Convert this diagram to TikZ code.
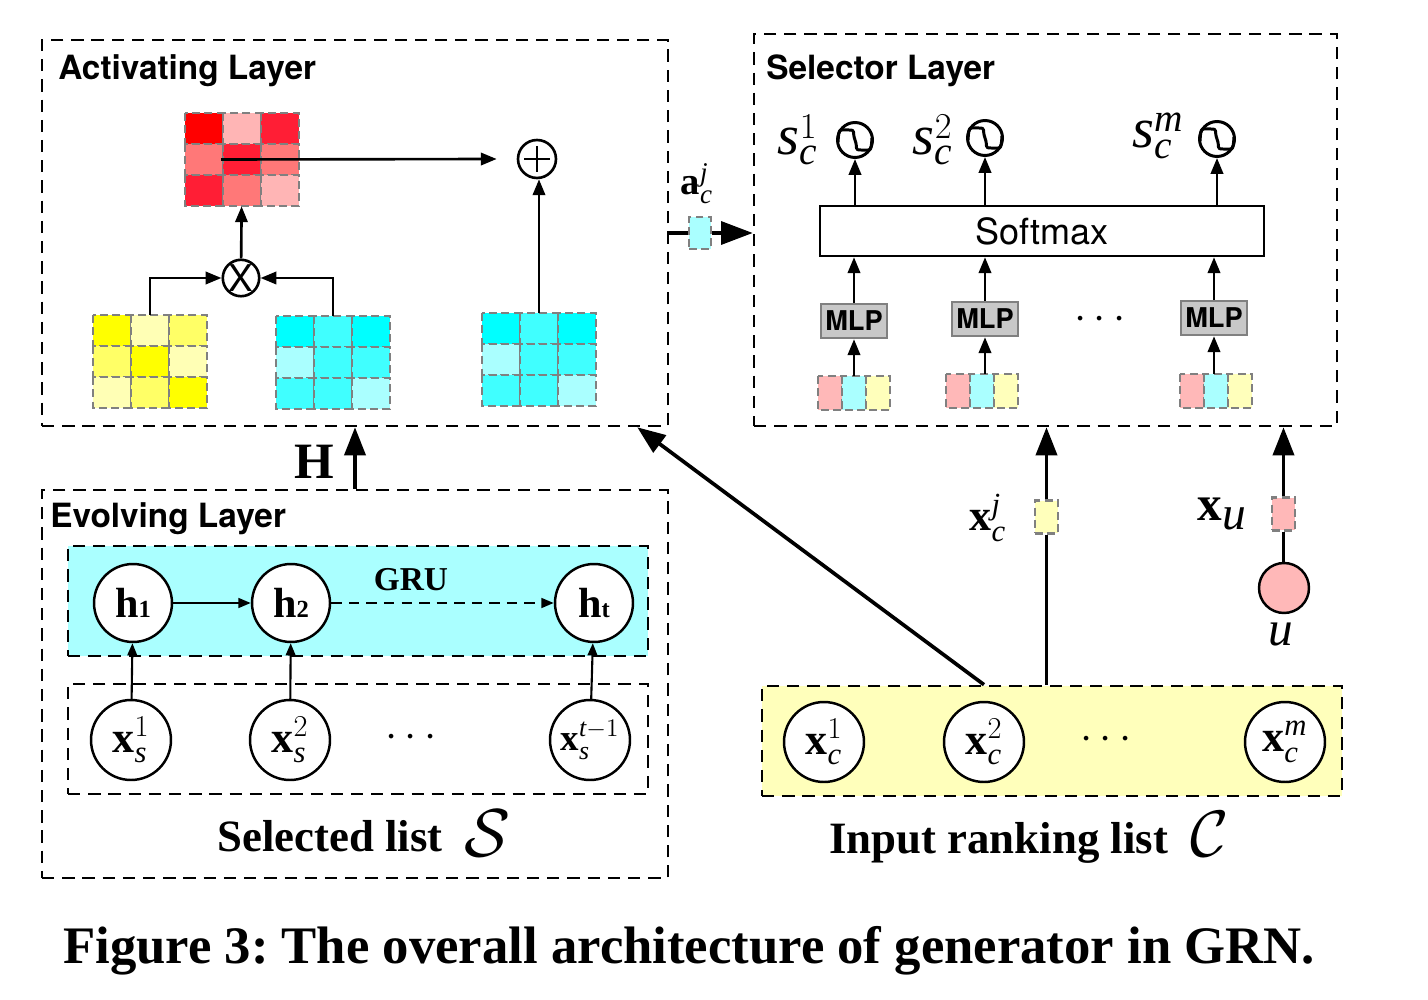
\documentclass[tikz,border=0pt]{standalone}
\usepackage{fontspec}
\setmainfont{Liberation Serif}
\setsansfont{TeX Gyre Heros}
\usepackage{graphicx}
\usetikzlibrary{arrows.meta,calc}
\definecolor{Rd1}{HTML}{FF0000}
\definecolor{Rd2}{HTML}{FF1E35}
\definecolor{Rd3}{HTML}{FF7878}
\definecolor{Rd4}{HTML}{FFB5B5}
\definecolor{Yl1}{HTML}{FFFF00}
\definecolor{Yl2}{HTML}{FFFF66}
\definecolor{Yl3}{HTML}{FFFFB5}
\definecolor{Cy1}{HTML}{00FFFF}
\definecolor{Cy2}{HTML}{40FFFF}
\definecolor{Cy3}{HTML}{AAFFFF}
\definecolor{cellgray}{HTML}{808080}
\definecolor{gruback}{HTML}{AAFFFF}
\definecolor{inpback}{HTML}{FFFFBB}
\definecolor{pinkc}{HTML}{FFB8B8}
\definecolor{mlpfill}{HTML}{C8C8C8}
\newcommand\fsz[1]{\fontsize{#1pt}{#1pt}\selectfont}
\newcommand\cellgrid[6]{%
 \foreach \cc [count=\i from 0] in {#6} {%
   \pgfmathtruncatemacro\cx{mod(\i,#5)}%
   \pgfmathtruncatemacro\cy{\i/#5}%
   \filldraw[fill=\cc, gridline] ({#1+\cx*#3},{#2+\cy*#4}) rectangle ++(#3,#4);
 }}
\frenchspacing
\begin{document}
\begin{tikzpicture}[x=0.02cm,y=-0.02cm,
  layer/.style={draw, rectangle, inner sep=0, line width=1.5pt, dash pattern=on 7pt off 4.5pt},
  gridline/.style={draw=cellgray, line width=1.4pt, dash pattern=on 4.5pt off 2.5pt},
  gridnode/.style={rectangle, inner sep=0, minimum width=2.28cm, minimum height=1.86cm},
  title/.style={font=\sffamily\bfseries\fsz{19}, anchor=base west, inner sep=0},
  arr/.style={line width=1.5pt, -{Triangle[length=9pt,width=7pt]}},
  sarr/.style={line width=1.2pt, -{Triangle[length=7pt,width=5.5pt]}},
  bigarr/.style={line width=2.1pt, -{Triangle[length=16pt,width=12pt]}},
  opnode/.style={circle, draw, line width=1.5pt, inner sep=0},
  hnode/.style={circle, draw, fill=white, line width=1.4pt, minimum size=1.56cm, inner sep=0, font=\fsz{24}},
  xnode/.style={circle, draw, fill=white, line width=1.4pt, minimum size=1.6cm, inner sep=0, font=\fsz{25}},
  signode/.style={circle, draw, line width=1.7pt, minimum size=0.7cm, inner sep=0},
  mlp/.style={rectangle, draw=cellgray, fill=mlpfill, line width=1.4pt, minimum width=1.32cm, minimum height=0.68cm, inner sep=0, font=\sffamily\bfseries\fsz{15.5}},
  smallcell/.style={rectangle, draw=cellgray, line width=1.4pt, dash pattern=on 4.5pt off 2.5pt, minimum width=0.46cm, minimum height=0.66cm, inner sep=0},
  tvnode/.style={rectangle, inner sep=0, minimum width=1.44cm, minimum height=0.68cm},
  lbl/.style={inner sep=0, font=\fsz{25}}
]
\useasboundingbox (0,0) rectangle (1428,1000);

% ---------- layer boxes ----------
\node[layer, minimum width=12.52cm, minimum height=7.72cm] (act) at (355,233) {};
\node[layer, minimum width=12.52cm, minimum height=7.76cm] (evo) at (355,684) {};
\node[layer, minimum width=11.66cm, minimum height=7.84cm] (sel) at (1045.5,230) {};
\node[layer, fill=gruback, minimum width=11.6cm, minimum height=2.2cm] (gru) at (358,601) {};
\node[layer, minimum width=11.6cm, minimum height=2.2cm] (sbox) at (358,739) {};
\node[layer, fill=inpback, minimum width=11.6cm, minimum height=2.2cm] (inp) at (1052,741) {};

\node[title] (tact) at (58,80) {Activating Layer};
\node[title] (tsel) at (766,80) {Selector Layer};
\node[title] (tevo) at (50,527) {Evolving Layer};

% ---------- activating layer ----------
\node[gridnode] (red) at (242,159.5) {};
\cellgrid{185}{113}{38}{31}{3}{Rd1,Rd4,Rd2,Rd3,Rd2,Rd3,Rd2,Rd3,Rd4}
\node[gridnode] (yel) at (150,361.5) {};
\cellgrid{93}{315}{38}{31}{3}{Yl1,Yl3,Yl2,Yl2,Yl1,Yl3,Yl3,Yl2,Yl1}
\node[gridnode] (cyA) at (333,362.5) {};
\cellgrid{276}{316}{38}{31}{3}{Cy1,Cy2,Cy1,Cy3,Cy2,Cy2,Cy2,Cy2,Cy3}
\node[gridnode] (cyB) at (539,359.5) {};
\cellgrid{482}{313}{38}{31}{3}{Cy1,Cy2,Cy1,Cy3,Cy2,Cy2,Cy2,Cy2,Cy3}

\node[opnode, minimum size=0.76cm] (oplus) at (537,159) {};
\draw[line width=1.5pt] ($(oplus.center)+(-13,0)$) -- ($(oplus.center)+(13,0)$);
\draw[line width=1.5pt] ($(oplus.center)+(0,-13)$) -- ($(oplus.center)+(0,13)$);
\node[opnode, minimum size=0.66cm, font=\sffamily\fsz{21}] (otimes) at (241,278) {X};

\draw[arr] ([xshift=-0.42cm]red.center) -- ([xshift=-0.4cm]oplus.west);
\draw[arr] (otimes) -- (red);
\draw[arr] (yel.north) |- (otimes.west);
\draw[arr] (cyA.north) |- (otimes.east);
\draw[arr] (cyB.north) -- (cyB.north |- oplus.south);

% ---------- H ----------
\draw[bigarr] (evo.north) -- (act.south);
\node[inner sep=0, font=\bfseries\fsz{29}] (Hlbl) at (314,462) {H};

% ---------- evolving layer ----------
\node[hnode] (h1) at (133,603) {\textbf{h}{\fsz{14}\textbf{1}}};
\node[hnode] (h2) at (291,603) {\textbf{h}{\fsz{14}\textbf{2}}};
\node[hnode] (ht) at (594,603) {\textbf{h}{\fsz{14}\textbf{t}}};
\node[inner sep=0, font=\bfseries\fsz{19}] (grul) at (411,580) {GRU};
\draw[sarr] (h1) -- (h2);
\draw[sarr, dash pattern=on 6pt off 4pt] (h2) -- (ht);

\node[xnode] (xs1) at (131,740) {$\mathbf{x}_{\mathit{s}}^{1}$};
\node[xnode] (xs2) at (290,740) {$\mathbf{x}_{\mathit{s}}^{2}$};
\node[xnode, font=\fsz{21}] (xst) at (590,740) {$\mathbf{x}_{\mathit{s}}^{\mathit{t}-1}$};
\node[lbl] (sdots) at (411,738) {$\cdots$};
\draw[sarr] (xs1) -- (h1);
\draw[sarr] (xs2) -- (h2);
\draw[sarr] (xst) -- (ht);

\node[anchor=base west, inner sep=0, font=\bfseries\fsz{25.5}] (slbl) at (217,851)
  {Selected list\hspace{0.5em}\raisebox{-3pt}{\scalebox{1.55}{$\mathcal{S}$}}};

% ---------- selector layer ----------
\node[rectangle, draw, line width=1.4pt, minimum width=8.88cm, minimum height=1cm, inner sep=0,
  font=\sffamily\fsz{20.5}] (soft) at (1042,231) {Softmax};

\node[signode] (sig1) at (855,140) {};
\node[signode] (sig2) at (985,138) {};
\node[signode] (sig3) at (1217,139) {};
\foreach \n in {sig1,sig2,sig3}
  \draw[line width=1.7pt] ($(\n.center)+(-17,2)$) .. controls +(1,-15) and +(-10,0) .. ($(\n.center)+(-6,-10)$)
      .. controls +(7,0) and +(-3,-8) .. ($(\n.center)+(0,0)$)
      .. controls +(3,8) and +(-7,0) .. ($(\n.center)+(6,10)$)
      .. controls +(10,0) and +(-1,15) .. ($(\n.center)+(17,-2)$);

\node[lbl, font=\fsz{32}] (s1) at (798,140) {$\mathit{s}_{\mathit{c}}^{1}$};
\node[lbl, font=\fsz{32}] (s2) at (933,140) {$\mathit{s}_{\mathit{c}}^{2}$};
\node[lbl, font=\fsz{32}] (sm) at (1158,136) {$\mathit{s}_{\mathit{c}}^{\mathit{m}}$};

\node[mlp] (m1) at (854,321) {MLP};
\node[mlp] (m2) at (985,319) {MLP};
\node[mlp] (m3) at (1214,318) {MLP};
\node[lbl] (mdots) at (1100,320) {$\cdots$};

\node[tvnode] (tv1) at (854,393) {};
\cellgrid{818}{376}{24}{34}{3}{pinkc,Cy3,inpback}
\node[tvnode] (tv2) at (982,391) {};
\cellgrid{946}{374}{24}{34}{3}{pinkc,Cy3,inpback}
\node[tvnode] (tv3) at (1216,391) {};
\cellgrid{1180}{374}{24}{34}{3}{pinkc,Cy3,inpback}

\foreach \t/\m in {tv1/m1,tv2/m2,tv3/m3} {
  \draw[arr] (\t.north -| \m) -- (\m.south);
  \draw[arr] (\m.north) -- (\m.north |- soft.south);
}
\foreach \s in {sig1,sig2,sig3}
  \draw[arr] (\s.south |- soft.north) -- (\s.south);

% ---------- a_c^j ----------
\node[smallcell, fill=Cy3, minimum width=0.44cm, minimum height=0.64cm] (acell) at (700,233) {};
\draw[line width=2.1pt] (act.east |- acell) -- (acell.west);
\draw[line width=2.1pt, -{Triangle[length=18pt,width=13pt]}] (acell.east) -- (sel.west |- acell);
\node[lbl, font=\fsz{22}] (albl) at (697,184) {$\mathbf{a}_{\mathit{c}}^{\mathit{j}}$};

% ---------- input ranking list ----------
\node[xnode] (xc1) at (824,742) {$\mathbf{x}_{\mathit{c}}^{1}$};
\node[xnode] (xc2) at (984,742) {$\mathbf{x}_{\mathit{c}}^{2}$};
\node[xnode] (xcm) at (1285,742) {$\mathbf{x}_{\mathit{c}}^{\mathit{m}}$};
\node[lbl] (cdots) at (1106,740) {$\cdots$};
\node[anchor=base west, inner sep=0, font=\bfseries\fsz{25.5}] (clbl) at (829,853)
  {Input ranking list\hspace{0.5em}\raisebox{-2pt}{\scalebox{1.5}{$\mathcal{C}$}}};

\draw[bigarr] (xc2.north |- inp.north) -- ([xshift=-0.64cm]act.south east);

\node[smallcell, fill=inpback] (xcell) at (1046.5,517) {};
\draw[line width=2.1pt] (inp.north -| xcell) -- (xcell.south);
\draw[bigarr] (xcell.north) -- (sel.south -| xcell);
\node[lbl] (xclbl) at (988,518) {$\mathbf{x}_{\mathit{c}}^{\mathit{j}}$};

\node[circle, draw, fill=pinkc, line width=1.4pt, minimum size=1.0cm, inner sep=0] (user) at (1284,588) {};
\node[smallcell, fill=pinkc] (ucell) at (1283.5,514) {};
\draw[line width=2.1pt] (user.north -| ucell) -- (ucell.south);
\draw[bigarr] (ucell.north) -- (sel.south -| ucell);
\node[lbl, font=\fsz{28}] (xulbl) at (1222,514) {\textbf{x}\raisebox{-5pt}{\fsz{27}\textit{u}}};
\node[lbl, font=\fsz{28}] (ulbl) at (1281,634) {\textit{u}};

% ---------- caption ----------
\node[anchor=base, inner sep=0, font=\bfseries\fsz{30}] (cap) at (689,963)
  {Figure 3: The overall architecture of generator in GRN.};
\end{tikzpicture}
\end{document}
